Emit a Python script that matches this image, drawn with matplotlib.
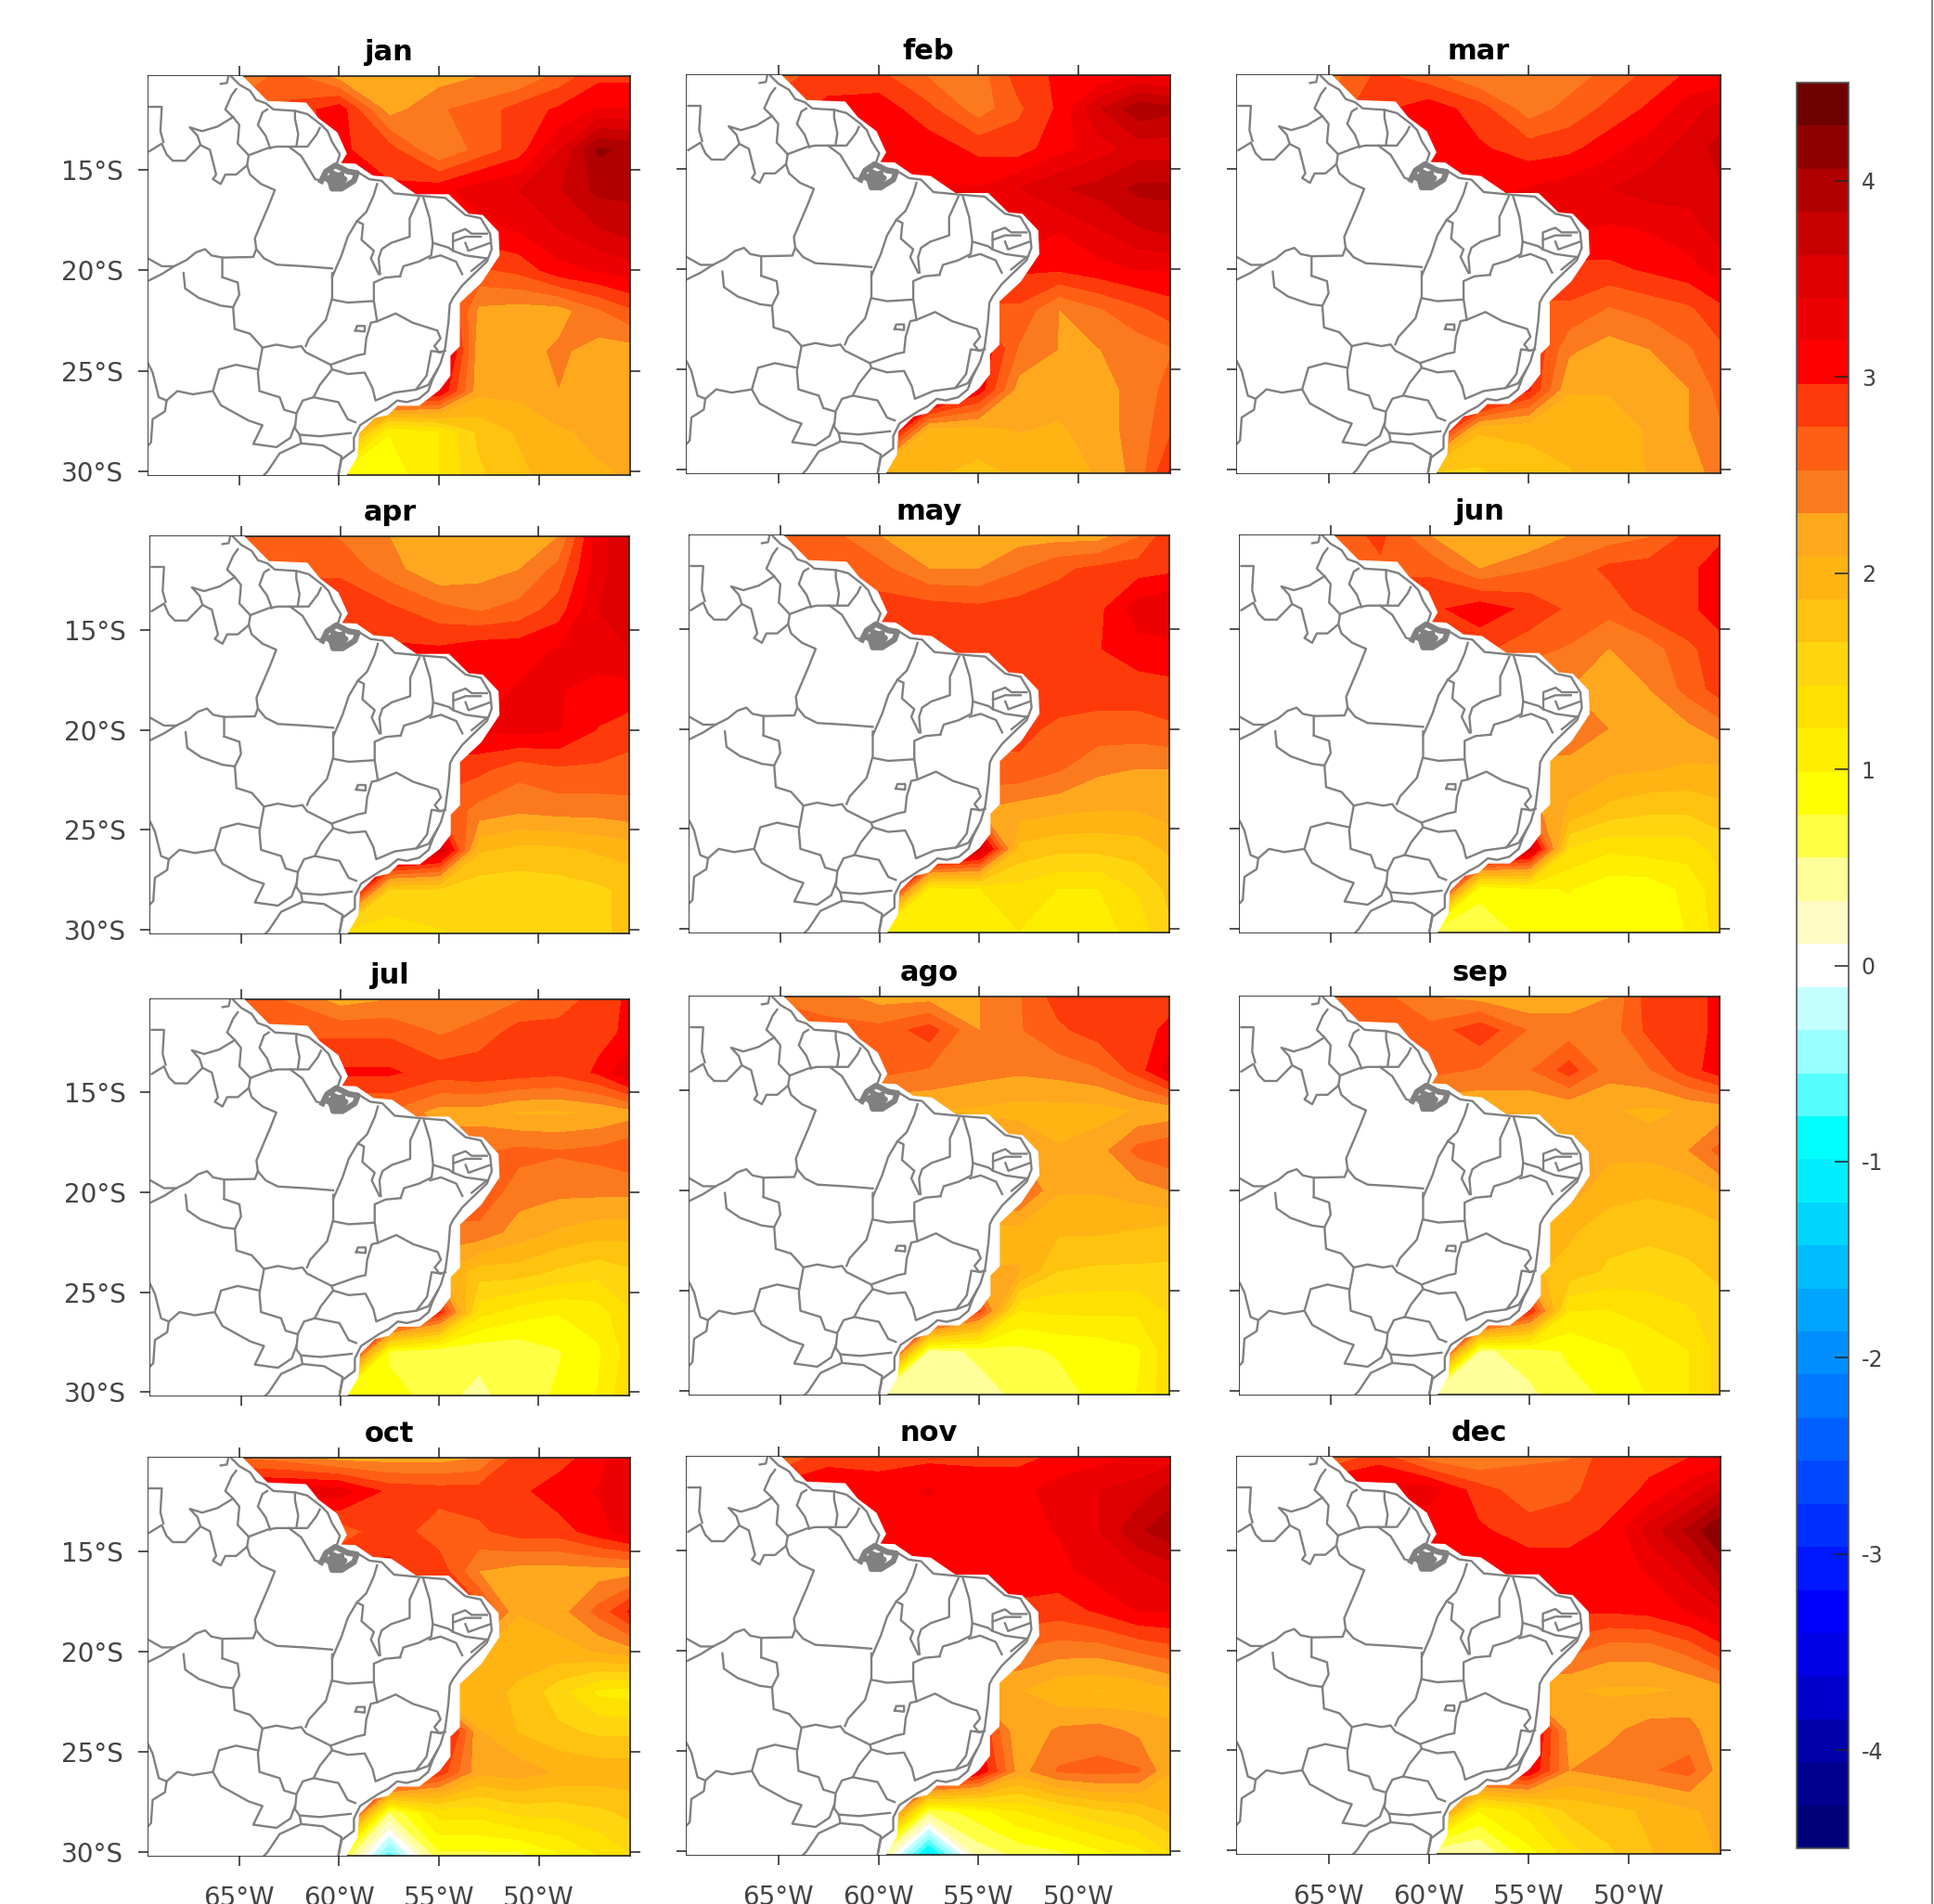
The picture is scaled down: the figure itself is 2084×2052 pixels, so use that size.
import numpy as np
import matplotlib
matplotlib.use('Agg')
import matplotlib.pyplot as plt
from matplotlib.colors import ListedColormap, BoundaryNorm
from matplotlib.cm import ScalarMappable
from matplotlib.lines import Line2D

# DATA

MONTHS = ['jan', 'feb', 'mar', 'apr', 'may', 'jun', 'jul', 'ago', 'sep', 'oct', 'nov', 'dec']

GRID_LON = [-65, -62.5, -60, -57.5, -55, -53, -51, -49, -47, -45.43]
GRID_LAT = [-10.33, -12, -14, -16, -18, -20, -22, -24, -26, -28, -30.18]

JAN = [[2.4, 2.6, 2.2, 2.2, 2.2, 2.3, 2.3, 2.6, 2.9, 2.9],
       [2.6, 2.8, 3.1, 2.2, 2.5, 2.6, 2.85, 3.0, 3.2, 3.2],
       [2.8, 2.9, 3.0, 2.85, 2.3, 2.6, 2.85, 3.4, 4.1, 4.0],
       [3.0, 3.0, 3.0, 3.0, 3.1, 3.3, 3.4, 3.6, 3.9, 3.9],
       [3.0, 3.0, 3.0, 3.0, 3.1, 3.1, 3.2, 3.4, 3.6, 3.7],
       [2.7, 2.7, 2.7, 2.7, 2.7, 2.7, 2.8, 3.1, 3.2, 3.3],
       [3.2, 3.2, 3.2, 3.2, 3.2, 2.25, 2.2, 2.2, 2.5, 2.7],
       [3.4, 3.4, 3.4, 3.4, 3.6, 2.15, 2.2, 2.35, 2.2, 2.2],
       [3.4, 3.4, 3.4, 3.4, 3.2, 2.15, 2.15, 2.3, 2.2, 2.2],
       [2.6, 2.6, 2.6, 1.0, 1.2, 1.7, 1.9, 2.05, 2.15, 2.2],
       [0.9, 0.9, 0.9, 0.85, 1.2, 1.6, 1.8, 2.0, 2.05, 2.1]]

FEB = [[2.6, 2.9, 2.8, 2.5, 2.4, 2.85, 3.0, 3.0, 3.2, 3.1],
       [2.9, 3.0, 3.1, 2.8, 2.4, 2.7, 3.0, 3.6, 4.0, 3.9],
       [3.1, 3.1, 3.1, 3.1, 2.9, 2.85, 3.1, 3.3, 3.5, 3.5],
       [3.2, 3.2, 3.2, 3.2, 3.2, 3.4, 3.6, 3.7, 3.9, 3.9],
       [3.4, 3.4, 3.4, 3.4, 3.4, 3.4, 3.2, 3.4, 3.6, 3.7],
       [3.0, 3.0, 3.0, 3.0, 3.0, 3.0, 3.0, 3.1, 3.2, 3.2],
       [2.7, 2.7, 2.7, 2.7, 2.7, 2.7, 2.3, 2.5, 2.7, 2.85],
       [3.2, 3.2, 3.2, 3.2, 3.2, 2.5, 2.3, 2.3, 2.4, 2.5],
       [3.9, 3.9, 3.9, 3.9, 3.1, 2.2, 2.2, 2.2, 2.4, 2.6],
       [3.8, 3.8, 3.8, 2.0, 2.0, 2.1, 2.05, 2.2, 2.4, 2.7],
       [1.9, 1.9, 1.9, 1.9, 1.8, 1.9, 2.0, 2.1, 2.4, 3.0]]

MAR = [[2.4, 2.8, 2.6, 2.3, 2.3, 2.4, 2.6, 2.8, 3.0, 3.0],
       [2.6, 2.9, 3.1, 2.85, 2.4, 2.6, 2.8, 3.0, 3.3, 3.5],
       [3.0, 3.0, 3.0, 3.0, 2.85, 2.9, 3.1, 3.3, 3.5, 3.7],
       [3.1, 3.1, 3.1, 3.1, 3.2, 3.3, 3.4, 3.5, 3.5, 3.6],
       [3.2, 3.2, 3.2, 3.2, 3.2, 3.2, 3.15, 3.2, 3.3, 3.5],
       [2.9, 2.9, 2.9, 2.9, 2.9, 2.9, 2.9, 3.0, 3.1, 3.3],
       [2.7, 2.7, 2.7, 2.7, 2.7, 2.7, 2.5, 2.6, 2.7, 2.9],
       [3.0, 3.0, 3.0, 3.0, 3.0, 2.35, 2.2, 2.3, 2.5, 2.7],
       [3.8, 3.8, 3.8, 3.8, 3.0, 2.1, 2.1, 2.2, 2.3, 2.6],
       [3.5, 3.5, 3.5, 1.9, 1.9, 1.95, 2.0, 2.1, 2.3, 2.5],
       [1.6, 1.6, 1.6, 1.6, 1.8, 1.85, 1.95, 2.1, 2.2, 2.4]]

APR = [[2.6, 2.6, 2.5, 2.3, 2.1, 2.1, 2.2, 2.3, 3.3, 3.6],
       [2.6, 2.7, 2.7, 2.4, 2.1, 2.2, 2.3, 2.6, 3.3, 3.6],
       [2.9, 2.9, 2.9, 2.8, 2.6, 2.5, 2.6, 2.85, 3.4, 3.6],
       [3.0, 3.0, 3.0, 3.0, 3.0, 3.1, 3.1, 3.2, 3.3, 3.4],
       [3.1, 3.1, 3.1, 3.1, 3.1, 3.1, 3.2, 3.2, 3.1, 3.1],
       [3.2, 3.2, 3.2, 3.2, 3.2, 3.2, 3.25, 3.2, 2.95, 2.85],
       [2.8, 2.8, 2.8, 2.8, 2.8, 2.8, 2.6, 2.7, 2.7, 2.65],
       [2.7, 2.7, 2.7, 2.7, 2.7, 2.45, 2.35, 2.4, 2.4, 2.45],
       [4.0, 4.0, 4.0, 4.0, 3.6, 1.9, 1.8, 1.8, 1.9, 1.95],
       [4.0, 4.0, 4.0, 1.6, 1.6, 1.5, 1.5, 1.55, 1.6, 1.7],
       [1.3, 1.3, 1.3, 1.3, 1.4, 1.5, 1.5, 1.6, 1.6, 1.7]]

MAY = [[2.5, 2.6, 2.3, 2.2, 2.2, 2.2, 2.2, 2.2, 2.5, 2.9],
       [2.6, 2.6, 2.6, 2.3, 2.3, 2.5, 2.7, 2.8, 2.85, 2.9],
       [2.85, 2.85, 2.85, 2.85, 2.8, 2.85, 2.85, 2.9, 3.3, 3.4],
       [2.85, 2.85, 2.85, 2.85, 2.9, 2.9, 2.9, 2.95, 3.1, 3.1],
       [2.85, 2.85, 2.85, 2.85, 2.85, 2.85, 2.85, 2.85, 2.85, 2.9],
       [2.8, 2.8, 2.8, 2.8, 2.8, 2.8, 2.7, 2.65, 2.65, 2.7],
       [2.7, 2.7, 2.7, 2.7, 2.7, 2.7, 2.55, 2.35, 2.3, 2.3],
       [2.3, 2.3, 2.3, 2.3, 2.3, 2.2, 2.15, 2.1, 2.1, 2.2],
       [4.0, 4.0, 4.0, 4.0, 3.6, 1.8, 1.7, 1.7, 1.75, 1.9],
       [4.0, 4.0, 4.0, 1.1, 1.2, 1.35, 1.2, 1.2, 1.45, 1.7],
       [1.0, 1.0, 1.0, 1.0, 1.1, 1.2, 1.2, 1.1, 1.3, 1.6]]

JUN = [[2.6, 2.8, 2.3, 2.2, 2.1, 2.3, 2.4, 2.5, 2.8, 2.9],
       [2.7, 2.7, 2.7, 2.3, 2.5, 2.6, 2.8, 2.85, 2.9, 3.1],
       [2.9, 2.9, 2.9, 3.1, 2.9, 2.7, 2.6, 2.85, 2.9, 3.1],
       [2.8, 2.8, 2.8, 2.8, 2.6, 2.5, 2.3, 2.4, 2.7, 2.85],
       [2.3, 2.3, 2.3, 2.3, 2.3, 2.3, 2.3, 2.3, 2.6, 2.85],
       [2.5, 2.5, 2.5, 2.5, 2.5, 2.5, 2.3, 2.25, 2.25, 2.4],
       [2.2, 2.2, 2.2, 2.2, 2.2, 2.2, 2.15, 2.1, 2.05, 2.05],
       [2.4, 2.4, 2.4, 2.4, 2.4, 2.05, 1.8, 1.7, 1.7, 1.8],
       [4.0, 4.0, 4.0, 4.0, 3.6, 1.4, 1.25, 1.3, 1.3, 1.5],
       [4.0, 4.0, 4.0, 0.8, 0.95, 1.0, 0.85, 0.85, 1.05, 1.35],
       [0.7, 0.7, 0.7, 0.7, 0.8, 0.9, 0.85, 0.85, 1.0, 1.3]]

JUL = [[2.6, 2.5, 2.2, 2.3, 2.4, 2.4, 2.5, 2.6, 2.85, 3.0],
       [2.7, 2.7, 2.7, 2.7, 2.5, 2.6, 2.85, 2.85, 2.9, 3.0],
       [3.0, 3.0, 3.0, 3.0, 2.85, 2.9, 2.85, 2.8, 3.0, 3.4],
       [2.5, 2.5, 2.5, 2.5, 2.2, 2.2, 2.05, 2.05, 2.1, 2.2],
       [2.5, 2.5, 2.5, 2.5, 2.5, 2.5, 2.6, 2.55, 2.6, 2.7],
       [2.7, 2.7, 2.7, 2.7, 2.7, 2.7, 2.4, 2.35, 2.35, 2.35],
       [2.45, 2.45, 2.45, 2.45, 2.45, 2.45, 2.2, 2.05, 1.95, 1.95],
       [2.1, 2.1, 2.1, 2.1, 2.1, 1.75, 1.75, 1.6, 1.5, 1.6],
       [4.0, 4.0, 4.0, 4.0, 3.0, 1.3, 1.1, 1.0, 1.1, 1.4],
       [4.0, 4.0, 4.0, 0.7, 0.55, 0.6, 0.6, 0.75, 0.95, 1.3],
       [0.9, 0.9, 0.9, 0.9, 0.6, 0.5, 0.65, 0.8, 1.0, 1.4]]

AGO = [[2.5, 2.4, 2.2, 2.2, 2.3, 2.5, 2.85, 2.9, 2.9, 2.9],
       [2.6, 2.6, 2.6, 2.85, 2.3, 2.5, 2.7, 2.85, 2.9, 3.0],
       [2.6, 2.6, 2.6, 2.5, 2.4, 2.35, 2.4, 2.5, 2.85, 3.3],
       [2.1, 2.1, 2.1, 2.1, 2.05, 2.0, 2.0, 2.0, 2.1, 2.15],
       [2.3, 2.3, 2.3, 2.3, 2.3, 2.3, 2.1, 2.2, 2.6, 2.7],
       [2.6, 2.6, 2.6, 2.6, 2.6, 2.6, 2.1, 2.1, 2.2, 2.3],
       [2.0, 2.0, 2.0, 2.0, 2.0, 2.0, 1.9, 1.9, 1.85, 1.8],
       [2.1, 2.1, 2.1, 2.1, 2.1, 2.1, 1.65, 1.6, 1.6, 1.6],
       [4.0, 4.0, 4.0, 4.0, 2.8, 1.2, 1.25, 1.25, 1.25, 1.45],
       [4.0, 4.0, 4.0, 0.45, 0.6, 0.7, 0.8, 0.85, 0.95, 1.35],
       [0.45, 0.45, 0.45, 0.45, 0.45, 0.6, 0.65, 0.85, 1.0, 1.35]]

SEP = [[2.5, 2.6, 2.3, 2.2, 2.1, 2.2, 2.3, 2.85, 2.9, 3.0],
       [2.6, 2.6, 2.6, 2.9, 2.5, 2.4, 2.4, 2.8, 2.9, 3.0],
       [2.6, 2.6, 2.6, 2.5, 2.5, 2.85, 2.4, 2.5, 2.85, 3.1],
       [2.1, 2.1, 2.1, 2.1, 2.1, 2.1, 2.1, 2.05, 2.1, 2.15],
       [2.2, 2.2, 2.2, 2.2, 2.2, 2.2, 2.15, 2.15, 2.3, 2.6],
       [2.2, 2.2, 2.2, 2.2, 2.2, 2.2, 1.95, 1.9, 1.95, 2.1],
       [1.9, 1.9, 1.9, 1.9, 1.9, 1.9, 1.75, 1.7, 1.75, 1.8],
       [1.9, 1.9, 1.9, 1.9, 1.9, 1.8, 1.6, 1.55, 1.6, 1.7],
       [4.0, 4.0, 4.0, 4.0, 3.0, 1.2, 1.2, 1.3, 1.4, 1.55],
       [4.0, 4.0, 4.0, 0.5, 0.65, 0.8, 0.95, 1.05, 1.2, 1.5],
       [0.5, 0.5, 0.5, 0.5, 0.5, 0.7, 0.8, 1.0, 1.2, 1.5]]

OCT = [[2.5, 2.4, 2.2, 2.2, 2.2, 2.3, 2.85, 2.85, 3.1, 3.4],
       [3.3, 3.3, 3.3, 2.9, 2.85, 2.85, 2.9, 3.1, 3.2, 3.4],
       [2.6, 2.6, 2.6, 2.9, 2.6, 2.7, 2.85, 2.85, 3.1, 3.3],
       [3.0, 3.0, 3.0, 3.0, 2.9, 2.3, 2.2, 2.2, 2.2, 2.2],
       [2.85, 2.85, 2.85, 2.85, 2.85, 2.85, 2.1, 2.2, 2.6, 3.0],
       [2.1, 2.1, 2.1, 2.1, 2.1, 2.1, 1.9, 2.0, 2.1, 2.2],
       [1.9, 1.9, 1.9, 1.9, 1.9, 1.9, 1.85, 1.5, 1.15, 1.1],
       [3.4, 3.4, 3.4, 3.4, 3.4, 2.1, 1.85, 1.7, 1.6, 1.6],
       [4.0, 4.0, 4.0, 4.0, 2.9, 2.15, 2.2, 2.05, 2.0, 2.0],
       [4.0, 4.0, 4.0, 0.55, 1.3, 1.3, 1.5, 1.5, 1.6, 1.7],
       [0.9, 0.9, 0.9, -0.7, 0.7, 0.7, 0.7, 0.95, 1.2, 1.4]]

NOV = [[2.5, 2.9, 2.85, 2.9, 2.9, 2.9, 3.0, 3.1, 3.2, 3.3],
       [3.1, 3.1, 3.1, 3.2, 3.1, 3.1, 3.3, 3.4, 3.5, 3.7],
       [3.0, 3.0, 3.0, 3.1, 3.1, 3.1, 3.2, 3.4, 3.8, 4.0],
       [3.0, 3.0, 3.0, 3.0, 3.1, 3.1, 3.1, 3.3, 3.4, 3.5],
       [2.9, 2.9, 2.9, 2.9, 2.9, 2.9, 2.85, 3.0, 3.2, 3.2],
       [2.5, 2.5, 2.5, 2.5, 2.5, 2.5, 2.4, 2.4, 2.55, 2.65],
       [2.1, 2.1, 2.1, 2.1, 2.1, 2.1, 1.9, 1.85, 1.9, 2.05],
       [3.0, 3.0, 3.0, 3.0, 3.0, 2.1, 2.35, 2.4, 2.25, 2.1],
       [3.9, 3.9, 3.9, 3.9, 3.2, 2.2, 2.55, 2.6, 2.55, 2.1],
       [3.5, 3.5, 3.5, 0.6, 0.9, 1.2, 1.4, 1.6, 1.7, 1.9],
       [0.6, 0.6, 0.6, -1.2, 0.4, 0.6, 0.7, 0.9, 1.1, 1.4]]

DEC = [[2.5, 2.85, 2.4, 2.3, 2.5, 2.5, 2.9, 2.9, 2.95, 3.0],
       [3.3, 3.3, 3.3, 2.85, 2.6, 2.7, 2.85, 3.0, 3.3, 3.6],
       [3.0, 3.0, 3.0, 3.0, 2.85, 2.85, 3.0, 3.5, 3.9, 4.3],
       [3.0, 3.0, 3.0, 3.0, 3.1, 3.1, 3.1, 3.2, 3.5, 3.9],
       [3.0, 3.0, 3.0, 3.0, 3.0, 3.0, 3.0, 3.05, 3.2, 3.4],
       [2.6, 2.6, 2.6, 2.6, 2.6, 2.6, 2.4, 2.4, 2.6, 2.85],
       [2.1, 2.1, 2.1, 2.1, 2.1, 2.1, 2.05, 2.05, 2.1, 2.2],
       [3.4, 3.4, 3.4, 3.4, 3.4, 2.2, 2.25, 2.4, 2.4, 2.1],
       [3.2, 3.2, 3.2, 3.2, 3.2, 2.3, 2.4, 2.5, 2.6, 2.2],
       [2.8, 2.8, 2.8, 1.0, 1.3, 1.7, 1.8, 1.9, 2.05, 2.15],
       [0.3, 0.3, 0.3, 0.3, 0.9, 1.3, 1.6, 1.85, 2.0, 2.1]]

ALL_MONTHS = [JAN, FEB, MAR, APR, MAY, JUN, JUL, AGO, SEP, OCT, NOV, DEC]

# land edge, clockwise from the top of the map
LAND_EDGE = [(-69.6, -10.2), (-65.0, -10.2), (-63.6, -11.6), (-61.67, -11.68), (-61.05, -12.45),
             (-60.12, -13.15), (-59.65, -14.18), (-59.96, -14.69), (-59.19, -14.72), (-58.33, -15.31),
             (-57.4, -15.39), (-56.16, -16.24), (-54.53, -16.24), (-53.53, -17.21), (-52.83, -17.27),
             (-52.05, -18.09), (-52.0, -19.25), (-52.52, -20.02), (-52.91, -20.6), (-53.99, -21.6),
             (-53.99, -23.07), (-53.99, -23.76), (-54.46, -24.23), (-54.46, -25.23), (-55.0, -25.93),
             (-56.01, -26.7), (-57.09, -26.7), (-57.56, -27.16), (-58.26, -27.32), (-59.03, -28.09),
             (-59.11, -29.25), (-59.73, -30.3), (-69.6, -30.3)]

COAST = [(-65.39, -10.36), (-65, -10.75), (-64.46, -11.06), (-64.15, -11.52), (-63.68, -11.68),
         (-63.29, -11.99), (-62.21, -12.06), (-61.59, -12.22), (-60.89, -12.76), (-60.58, -13.07),
         (-60.35, -13.61), (-59.96, -14.23), (-60.12, -14.69), (-59.88, -14.92), (-59.11, -15.08),
         (-58.49, -15.46), (-57.87, -15.54), (-57.25, -16.16), (-56.01, -16.28), (-54.69, -16.39),
         (-53.68, -17.24), (-52.91, -17.40), (-52.44, -18.17), (-52.36, -18.94), (-52.60, -19.56),
         (-53.37, -20.29), (-53.84, -20.75), (-54.30, -21.37), (-54.46, -21.68), (-54.53, -22.60),
         (-54.69, -23.84), (-54.92, -24.61), (-55.31, -25.39), (-55.54, -26.0), (-56.01, -26.39),
         (-56.63, -26.55), (-57.09, -26.47), (-57.56, -26.85), (-58.02, -27.09), (-58.95, -27.70),
         (-59.26, -28.32), (-59.26, -28.94), (-59.88, -29.40), (-60.04, -30.18)]

DELTA = [(-60.89, -15.54), (-60.66, -15.08), (-60.19, -14.77), (-59.88, -14.92), (-59.57, -15.08),
         (-59.11, -15.15), (-59.26, -15.54), (-59.88, -15.93), (-60.35, -15.93), (-60.50, -15.39),
         (-59.88, -15.23), (-60.19, -15.54), (-60.35, -15.15), (-59.73, -15.46), (-60.04, -15.77),
         (-60.58, -15.46)]

BORDERS = [
    [(-65.54, -10.32), (-65.62, -10.67), (-65.93, -10.72)],
    [(-65.16, -10.98), (-65.39, -11.29), (-65.70, -11.99), (-65.31, -12.37), (-65, -12.76), (-65.08, -13.69), (-64.53, -14.27)],
    [(-65.31, -12.37), (-66.09, -12.84), (-66.86, -13.07), (-67.48, -12.88), (-67.09, -13.30), (-66.94, -13.76),
     (-67.71, -14.54), (-68.33, -14.54), (-68.64, -14.23), (-68.88, -13.69), (-69.50, -14.07)],
    [(-69.5, -11.86), (-68.88, -11.86), (-68.95, -13.07), (-68.80, -13.61)],
    [(-66.94, -13.76), (-66.47, -14.0), (-66.16, -15.23), (-66.32, -15.46), (-65.93, -15.70), (-65.70, -15.23),
     (-65.16, -15.23), (-64.61, -14.77), (-64.53, -14.27)],
    [(-64.53, -14.27), (-63.60, -13.92), (-63.14, -13.84), (-62.52, -13.84), (-61.90, -14.30), (-61.20, -15.46), (-60.89, -15.54)],
    [(-62.52, -13.84), (-61.59, -13.84), (-61.12, -13.22), (-60.97, -12.91)],
    [(-63.45, -13.92), (-63.68, -13.30), (-64.07, -12.76), (-63.84, -12.14), (-63.60, -11.99)],
    [(-62.21, -12.06), (-62.21, -12.45), (-62.05, -13.22), (-62.13, -13.76)],
    [(-64.61, -14.77), (-64.46, -15.23), (-63.91, -15.70), (-63.22, -16.0), (-63.53, -16.78), (-63.99, -17.86),
     (-64.22, -18.40), (-64.15, -18.94), (-63.76, -19.40), (-63.14, -19.71), (-61.74, -19.79), (-60.35, -19.90)],
    [(-64.15, -18.94), (-64.30, -19.33), (-65.85, -19.36), (-65.85, -20.33)],
    [(-65.85, -19.36), (-66.40, -19.25), (-66.71, -18.94), (-67.17, -19.10), (-67.64, -19.48), (-68.26, -19.79), (-68.88, -20.18), (-69.57, -20.52)],
    [(-69.57, -19.40), (-68.88, -19.79), (-68.26, -19.79)],
    [(-58.10, -15.70), (-58.26, -16.24), (-58.64, -17.09), (-59.11, -17.55), (-59.57, -18.32), (-59.88, -19.25), (-60.35, -20.33)],
    [(-59.11, -17.55), (-58.80, -17.70), (-58.88, -18.48), (-58.26, -19.02), (-58.41, -19.40), (-58.02, -20.18)],
    [(-56.01, -16.39), (-56.47, -17.40), (-56.47, -18.32), (-57.40, -18.63), (-57.87, -18.94), (-58.02, -19.40), (-57.95, -20.18)],
    [(-55.78, -16.39), (-55.47, -17.40), (-55.31, -18.63), (-55.39, -19.25), (-56.01, -19.56), (-56.78, -19.79), (-56.94, -20.25)],
    [(-55.31, -18.63), (-54.53, -18.86), (-54.30, -19.02), (-53.68, -19.25), (-52.60, -19.40)],
    [(-54.30, -19.02), (-54.30, -18.17), (-53.68, -17.94), (-53.37, -18.17), (-52.60, -18.17)],
    [(-54.30, -18.55), (-53.68, -18.32), (-52.91, -18.32)],
    [(-53.68, -18.63), (-53.53, -19.02), (-52.44, -18.63)],
    [(-55.47, -19.40), (-54.92, -19.25), (-54.15, -19.56), (-53.84, -20.18)],
    [(-52.60, -19.40), (-53.37, -20.02)],
    [(-67.79, -20.13), (-67.71, -20.90), (-67.02, -21.37), (-65.93, -21.75), (-65.31, -21.83), (-65, -21.21),
     (-65.08, -20.60), (-65.78, -20.36), (-65.85, -20.33)],
    [(-65.31, -21.83), (-65.23, -22.91), (-64.46, -23.15), (-63.84, -23.84), (-63.14, -23.69), (-62.36, -23.84),
     (-61.90, -23.76), (-61.67, -24.07), (-60.43, -24.69), (-59.11, -24.23), (-58.72, -24.15), (-58.64, -23.38),
     (-58.41, -22.60), (-58.10, -22.53), (-57.17, -22.14), (-56.32, -22.60), (-55.08, -22.99), (-54.92, -23.38),
     (-55.23, -23.76), (-55.0, -24.07), (-54.69, -24.0)],
    [(-60.35, -20.13), (-60.35, -21.37), (-60.66, -22.45), (-61.51, -23.38), (-61.67, -23.76)],
    [(-60.35, -21.45), (-59.57, -21.60), (-58.26, -21.52), (-58.10, -22.53)],
    [(-58.26, -21.52), (-58.26, -20.60), (-57.71, -20.36), (-56.94, -20.29)],
    [(-63.84, -23.84), (-64.07, -25.08), (-63.99, -26.0), (-62.98, -26.31), (-62.75, -26.93), (-62.21, -27.09)],
    [(-60.43, -24.69), (-60.35, -24.92), (-60.97, -25.70), (-61.28, -26.31), (-61.82, -26.47), (-62.13, -27.09),
     (-62.21, -27.86), (-61.98, -28.17), (-61.90, -28.60), (-62.98, -29.10), (-63.60, -30.02), (-63.76, -30.18)],
    [(-61.90, -28.60), (-60.81, -28.71), (-59.88, -29.25), (-60.04, -30.18)],
    [(-61.98, -28.17), (-60.97, -28.25), (-59.42, -28.09)],
    [(-61.28, -26.31), (-60.04, -26.55), (-59.57, -27.40), (-59.19, -27.55)],
    [(-60.35, -24.92), (-59.57, -25.15), (-58.72, -25.08), (-58.33, -25.85), (-58.18, -26.47), (-57.25, -26.08),
     (-56.16, -25.93), (-55.62, -25.23), (-55.39, -24.0), (-54.92, -24.07)],
    [(-56.16, -25.93), (-55.54, -25.70), (-55.08, -24.92)],
    [(-64.07, -24.92), (-65.16, -24.69), (-66.01, -24.92), (-66.32, -26.0), (-65.93, -26.70), (-64.53, -27.47),
     (-63.84, -27.70), (-64.30, -28.63), (-63.14, -28.79), (-62.44, -28.32), (-62.21, -27.70)],
    [(-66.32, -26.0), (-67.33, -26.16), (-68.10, -26.0), (-68.64, -26.47), (-68.72, -27.01), (-69.34, -27.40),
     (-69.42, -28.55), (-69.57, -28.71)],
    [(-69.57, -24.61), (-69.34, -25.08), (-69.03, -26.31), (-68.64, -26.47)],
    [(-59.19, -22.99), (-59.11, -22.76), (-58.72, -22.76), (-58.72, -23.04), (-59.19, -22.99)],
]

LON_TICKS = [-65, -60, -55, -50]
LON_LABELS = ['65°W', '60°W', '55°W', '50°W']
LAT_TICKS = [-15, -20, -25, -30]
LAT_LABELS = ['15°S', '20°S', '25°S', '30°S']
CBAR_TICKS = [-4, -3, -2, -1, 0, 1, 2, 3, 4]

# one colour per band, bottom of the colour bar to the top
BAND_COLOURS = ['#000078', '#000090', '#0000AA', '#0000CC', '#0000E6', '#0000FF', '#0018FF', '#0030FF',
                '#0048FF', '#0060FF', '#0078FF', '#008EFF', '#00A5FF', '#00BEFF', '#00D5FF', '#00EEFF',
                '#00FFFF', '#55FFFF', '#99FFFF', '#C4FFFF', '#FFFFFF', '#FFFBC4', '#FFFF99', '#FFFF44',
                '#FFFF00', '#FFEE00', '#FFE000', '#FFD510', '#FFC30F', '#FFB414', '#FFA81E', '#FB7A1E',
                '#FF5F14', '#FF3A0A', '#FF0000', '#EE0000', '#DD0000', '#C80000', '#B00000', '#900000',
                '#6E0000']

# VISUAL PARAMETERS

W, H = 2084, 2052
# panel boxes in pixels: left, right, top, bottom
BOXES = [(159.5, 679, 82, 512), (740, 1261, 81, 510), (1333, 1854, 81, 510),
         (162, 678, 578, 1006), (743, 1260, 577, 1005), (1336, 1853, 577, 1005),
         (162, 678, 1077, 1504), (743, 1260, 1074, 1503), (1336, 1853, 1074, 1503),
         (159.5, 679, 1571, 2000), (740, 1261, 1570, 1999), (1333, 1854, 1570, 1998)]
CBAR_BOX = (1936, 1992, 89, 1992)
LAND_GREY = '#808080'
TEXT_GREY = '#444444'
LINE_DARK = '#222222'

# CODE

plt.rcParams['font.family'] = 'DejaVu Sans'
plt.rcParams['axes.unicode_minus'] = False

levels = np.linspace(-4.5, 4.5, len(BAND_COLOURS) + 1)
cmap = ListedColormap(BAND_COLOURS)
norm = BoundaryNorm(levels, cmap.N)


def add_box(box):
    left, right, top, bottom = box
    return fig.add_axes([left / W, 1 - bottom / H, (right - left) / W, (bottom - top) / H])


fig = plt.figure(figsize=(W / 100, H / 100), dpi=100)

for i, month in enumerate(MONTHS):
    ax = add_box(BOXES[i])
    ax.contourf(GRID_LON, GRID_LAT, np.array(ALL_MONTHS[i]), levels=levels, cmap=cmap, norm=norm)
    ax.fill(*zip(*LAND_EDGE), color='white', zorder=3)
    for line in BORDERS + [COAST]:
        ax.plot(*zip(*line), color=LAND_GREY, linewidth=1.7, zorder=4)
    ax.plot(*zip(*DELTA), color=LAND_GREY, linewidth=4.5, zorder=4)

    ax.set_xlim(-69.57, -45.43)
    ax.set_ylim(-30.18, -10.33)
    ax.set_facecolor('white')
    ax.set_xticks(LON_TICKS)
    ax.set_yticks(LAT_TICKS)
    ax.set_xticklabels(LON_LABELS)
    ax.set_yticklabels(LAT_LABELS)
    ax.tick_params(axis='both', direction='out', length=8, width=1.1, color=LINE_DARK,
                   top=True, right=True, labelcolor=TEXT_GREY, labelsize=20)
    ax.tick_params(axis='x', pad=15, labelbottom=i >= 9)
    ax.tick_params(axis='y', pad=11, labelleft=i % 3 == 0)
    for spine in ax.spines.values():
        spine.set_linewidth(1.2)
        spine.set_color(LINE_DARK)
    ax.set_title(month, fontsize=22, fontweight='bold', color='black', y=1.04, pad=0)

cax = add_box(CBAR_BOX)
sm = ScalarMappable(norm=norm, cmap=cmap)
cbar = fig.colorbar(sm, cax=cax, ticks=CBAR_TICKS, spacing='proportional')
cbar.ax.set_yticklabels([str(t) for t in CBAR_TICKS])
cbar.ax.minorticks_off()
cbar.ax.tick_params(direction='in', length=11, width=1.1, color=LINE_DARK, labelcolor=TEXT_GREY,
                    labelsize=17, pad=10)
cbar.outline.set_edgecolor('#555555')
cbar.outline.set_linewidth(1.2)

# grey rule down the right edge of the page
fig.add_artist(Line2D([2082 / W, 2082 / W], [0, 1], color='#888888', linewidth=1.5))

plt.savefig('out.png', dpi=100)
